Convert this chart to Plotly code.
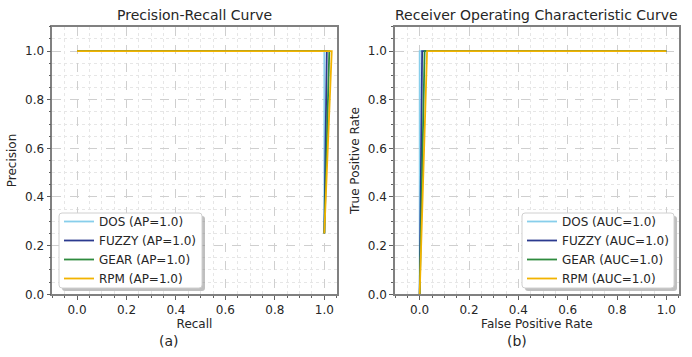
import plotly.graph_objects as go

W, H = 692, 357

labels = ["DOS", "FUZZY", "GEAR", "RPM"]
ap_scores = [1.0, 1.0, 1.0, 1.0]
auc_scores = [1.0, 1.0, 1.0, 1.0]
colors = ["#87CEEB", "#2B3A8F", "#2E8B3E", "#F2B300"]

# Precision-recall curves (recall, precision) as drawn (small display offsets)
pr_recall = [
    [0.0, 1.00, 1.0],
    [0.0, 1.01, 1.0],
    [0.0, 1.02, 1.0],
    [0.0, 1.03, 1.0],
]
pr_precision = [
    [1.0, 1.0, 0.25],
    [1.0, 1.0, 0.25],
    [1.0, 1.0, 0.25],
    [1.0, 1.0, 0.25],
]

# ROC curves (fpr, tpr)
roc_fpr = [
    [0.0, 0.00, 1.0],
    [0.0, 0.01, 1.0],
    [0.0, 0.02, 1.0],
    [0.0, 0.03, 1.0],
]
roc_tpr = [
    [0.0, 1.0, 1.0],
    [0.0, 1.0, 1.0],
    [0.0, 1.0, 1.0],
    [0.0, 1.0, 1.0],
]

FONT = "DejaVu Sans"
TXT = "#262626"


def px(x):
    return x / W


def py(y):
    return 1 - y / H


fig = go.Figure()

for i, lab in enumerate(labels):
    fig.add_trace(go.Scatter(
        x=pr_recall[i], y=pr_precision[i], mode="lines",
        line=dict(color=colors[i], width=1.8),
        name=f"{lab} (AP={ap_scores[i]:.1f})",
        xaxis="x", yaxis="y", legend="legend",
    ))
for i, lab in enumerate(labels):
    fig.add_trace(go.Scatter(
        x=roc_fpr[i], y=roc_tpr[i], mode="lines",
        line=dict(color=colors[i], width=1.8),
        name=f"{lab} (AUC={auc_scores[i]:.1f})",
        xaxis="x2", yaxis="y2", legend="legend2",
    ))

L1, R1 = 52.3, 336.7
L2, R2 = 395.0, 678.7
TOP, BOT = 26.7, 294.3


def axis_common():
    return dict(
        automargin=False,
        showline=True, linecolor="#808080", linewidth=1.5, mirror=True,
        ticks="outside", ticklen=4, tickwidth=1, tickcolor="#606060",
        tickfont=dict(family=FONT, size=12, color=TXT),
        showgrid=True, gridcolor="#cfcfcf", griddash="dash", gridwidth=1,
        zeroline=False,
        minor=dict(dtick=0.05, ticks="outside", ticklen=2, tickcolor="#606060",
                   showgrid=True, gridcolor="#e6e6e6", griddash="dot", gridwidth=1),
        dtick=0.2, tickformat=".1f",
    )


xa = axis_common()
xa.update(domain=[px(L1), px(R1)], range=[-0.1, 1.05], anchor="y",
          title=dict(text="Recall", font=dict(family=FONT, size=12, color=TXT), standoff=3))
ya = axis_common()
ya.update(domain=[py(BOT), py(TOP)], range=[0, 1.1], anchor="x",
          title=dict(text="Precision", font=dict(family=FONT, size=12, color=TXT), standoff=6))
xa2 = axis_common()
xa2.update(domain=[px(L2), px(R2)], range=[-0.1, 1.05], anchor="y2",
           title=dict(text="False Positive Rate", font=dict(family=FONT, size=12, color=TXT), standoff=3))
ya2 = axis_common()
ya2.update(domain=[py(BOT), py(TOP)], range=[0, 1.1], anchor="x2",
           title=dict(text="True Positive Rate", font=dict(family=FONT, size=12, color=TXT), standoff=6))


def rounded_path(x0, y0, x1, y1, r=3):
    pts = [
        f"M {px(x0 + r)},{py(y0)}",
        f"L {px(x1 - r)},{py(y0)}",
        f"Q {px(x1)},{py(y0)} {px(x1)},{py(y0 + r)}",
        f"L {px(x1)},{py(y1 - r)}",
        f"Q {px(x1)},{py(y1)} {px(x1 - r)},{py(y1)}",
        f"L {px(x0 + r)},{py(y1)}",
        f"Q {px(x0)},{py(y1)} {px(x0)},{py(y1 - r)}",
        f"L {px(x0)},{py(y0 + r)}",
        f"Q {px(x0)},{py(y0)} {px(x0 + r)},{py(y0)}",
        "Z",
    ]
    return " ".join(pts)


shapes = []
for (bx0, by0, bx1, by1) in [(59, 213, 202, 288), (522, 213, 674, 288)]:
    shapes.append(dict(type="path", xref="paper", yref="paper",
                       path=rounded_path(bx0 + 3, by0 + 3, bx1 + 3, by1 + 3),
                       fillcolor="rgba(128,128,128,0.5)", line=dict(width=0), layer="above"))
    shapes.append(dict(type="path", xref="paper", yref="paper",
                       path=rounded_path(bx0, by0, bx1, by1),
                       fillcolor="rgba(255,255,255,1)", line=dict(color="#d0d0d0", width=1),
                       layer="above"))

legend_common = dict(
    bgcolor="rgba(0,0,0,0)", borderwidth=0,
    font=dict(family=FONT, size=12, color=TXT),
    xanchor="left", yanchor="top", itemwidth=30, tracegroupgap=0,
)

annotations = [
    dict(text="Precision-Recall Curve", x=px((L1 + R1) / 2), y=py(15), xref="paper", yref="paper",
         showarrow=False, font=dict(family=FONT, size=14, color=TXT), xanchor="center", yanchor="middle"),
    dict(text="Receiver Operating Characteristic Curve", x=px((L2 + R2) / 2), y=py(15), xref="paper",
         yref="paper", showarrow=False, font=dict(family=FONT, size=14, color=TXT),
         xanchor="center", yanchor="middle"),
    dict(text="(a)", x=px(169), y=py(341), xref="paper", yref="paper", showarrow=False,
         font=dict(family=FONT, size=14, color=TXT), xanchor="center", yanchor="middle"),
    dict(text="(b)", x=px(517), y=py(341), xref="paper", yref="paper", showarrow=False,
         font=dict(family=FONT, size=14, color=TXT), xanchor="center", yanchor="middle"),
]

lg1 = dict(legend_common, x=px(59), y=py(207))
lg2 = dict(legend_common, x=px(522), y=py(207))

fig.update_layout(
    width=W, height=H,
    margin=dict(l=0, r=0, t=0, b=0, autoexpand=False),
    paper_bgcolor="white", plot_bgcolor="white",
    xaxis=xa, yaxis=ya, xaxis2=xa2, yaxis2=ya2,
    legend=lg1, legend2=lg2,
    shapes=shapes, annotations=annotations,
    showlegend=True,
    font=dict(family=FONT, color=TXT),
)

fig.write_html("out.html",
               config={"displayModeBar": False},
               post_script="document.body.style.margin='0';document.body.style.overflow='hidden';")
